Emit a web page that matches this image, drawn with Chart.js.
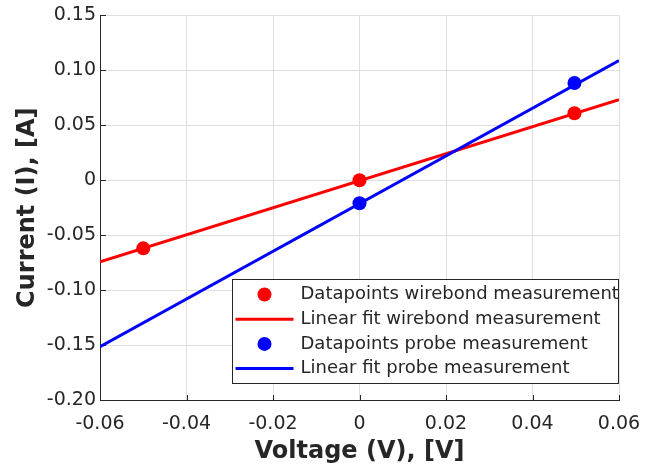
<!DOCTYPE html>
<html>
<head>
<meta charset="utf-8">
<script src="https://cdn.jsdelivr.net/npm/chart.js@4/dist/chart.umd.min.js"></script>
<style>
  body { margin: 0; background: #ffffff; }
  #iv-chart { display: block; }
</style>
</head>
<body>
<canvas id="iv-chart" width="670" height="466"></canvas>
<script>
// --- DATOS ---
const seriesLabels = [
    'Datapoints wirebond measurement',
    'Linear fit wirebond measurement',
    'Datapoints probe measurement',
    'Linear fit probe measurement'
];
const voltageWirebond = [-0.05, 0, 0.0497];
const currentWirebond = [-0.062, 0, 0.061];
const voltageProbe = [0, 0.0497];
const currentProbe = [-0.021, 0.0885];
const fitVoltage = [-0.06, 0.06];
const fitWirebond = [-0.0743, 0.0733];
const fitProbe = [-0.1515, 0.109];
const xTicks = [-0.06, -0.04, -0.02, 0, 0.02, 0.04, 0.06];
const yTicks = [-0.20, -0.15, -0.10, -0.05, 0, 0.05, 0.10, 0.15];

const axisColor = '#262626';
const gridColor = '#dfdfdf';
const fontFamily = '"DejaVu Sans", Verdana, sans-serif';

const toPoints = (xs, ys) => xs.map((x, i) => ({ x: x, y: ys[i] }));
const fmtTick = (v) => (Math.abs(v) < 1e-9 ? '0' : v.toFixed(2));

// Marcas de graduación hacia dentro (estilo MATLAB)
const innerTicksPlugin = {
    id: 'innerTicks',
    beforeDatasetsDraw(chart) {
        const { ctx, chartArea, scales } = chart;
        ctx.save();
        ctx.strokeStyle = axisColor;
        ctx.lineWidth = 1;
        ctx.beginPath();
        xTicks.forEach(v => {
            const px = Math.round(scales.x.getPixelForValue(v)) + 0.5;
            ctx.moveTo(px, chartArea.bottom);
            ctx.lineTo(px, chartArea.bottom - 5);
        });
        yTicks.forEach(v => {
            const py = Math.round(scales.y.getPixelForValue(v)) + 0.5;
            ctx.moveTo(chartArea.left, py);
            ctx.lineTo(chartArea.left + 6, py);
        });
        ctx.stroke();
        ctx.restore();
    }
};

// Leyenda dentro del área del gráfico
const boxLegendPlugin = {
    id: 'boxLegend',
    afterDraw(chart) {
        const { ctx } = chart;
        const box = { left: 232.5, top: 279.5, width: 386, height: 104 };
        ctx.save();
        ctx.fillStyle = '#ffffff';
        ctx.fillRect(box.left, box.top, box.width, box.height);
        ctx.strokeStyle = axisColor;
        ctx.lineWidth = 1;
        ctx.strokeRect(box.left, box.top, box.width, box.height);
        ctx.font = '18px ' + fontFamily;
        ctx.textBaseline = 'middle';
        ctx.textAlign = 'left';
        chart.data.datasets.forEach((ds, i) => {
            const rowY = box.top + 15 + i * 24.7;
            if (ds.showLine) {
                ctx.strokeStyle = ds.borderColor;
                ctx.lineWidth = 3;
                ctx.beginPath();
                ctx.moveTo(box.left + 3, rowY);
                ctx.lineTo(box.left + 61, rowY);
                ctx.stroke();
            } else {
                ctx.fillStyle = ds.backgroundColor;
                ctx.beginPath();
                ctx.arc(box.left + 32, rowY, 7, 0, Math.PI * 2);
                ctx.fill();
            }
            ctx.fillStyle = axisColor;
            ctx.fillText(ds.label, box.left + 68, rowY);
        });
        ctx.restore();
    }
};

const pointStyle = (label, xs, ys, color, order) => ({
    label: label,
    data: toPoints(xs, ys),
    showLine: false,
    backgroundColor: color,
    borderColor: color,
    pointRadius: 7,
    pointBorderWidth: 0,
    order: order
});

const lineStyle = (label, xs, ys, color, order) => ({
    label: label,
    data: toPoints(xs, ys),
    showLine: true,
    borderColor: color,
    backgroundColor: color,
    borderWidth: 3,
    pointRadius: 0,
    fill: false,
    order: order
});

new Chart(document.querySelector('#iv-chart'), {
    type: 'scatter',
    data: {
        datasets: [
            pointStyle(seriesLabels[0], voltageWirebond, currentWirebond, '#ff0000', 0),
            lineStyle(seriesLabels[1], fitVoltage, fitWirebond, '#ff0000', 3),
            pointStyle(seriesLabels[2], voltageProbe, currentProbe, '#0000ff', 1),
            lineStyle(seriesLabels[3], fitVoltage, fitProbe, '#0000ff', 2)
        ]
    },
    options: {
        responsive: false,
        animation: false,
        layout: { padding: { top: 15, right: 51, left: 0, bottom: 0 } },
        plugins: {
            legend: { display: false },
            tooltip: { enabled: false }
        },
        scales: {
            x: {
                type: 'linear',
                min: -0.06,
                max: 0.06,
                afterBuildTicks: (scale) => { scale.ticks = xTicks.map(v => ({ value: v })); },
                afterFit: (scale) => { scale.height = 66; },
                grid: { color: gridColor, lineWidth: 1, drawTicks: false },
                border: { color: axisColor, width: 1 },
                ticks: {
                    color: axisColor,
                    padding: 13,
                    maxRotation: 0,
                    font: { family: fontFamily, size: 19 },
                    callback: (v) => fmtTick(v)
                },
                title: {
                    display: true,
                    text: 'Voltage (V), [V]',
                    color: axisColor,
                    padding: { top: 0, bottom: 0 },
                    font: { family: fontFamily, size: 24, weight: 'bold' }
                }
            },
            y: {
                type: 'linear',
                min: -0.2,
                max: 0.15,
                afterBuildTicks: (scale) => { scale.ticks = yTicks.map(v => ({ value: v })); },
                afterFit: (scale) => { scale.width = 100; },
                grid: { color: gridColor, lineWidth: 1, drawTicks: false },
                border: { color: axisColor, width: 1 },
                ticks: {
                    color: axisColor,
                    padding: 4,
                    font: { family: fontFamily, size: 19 },
                    callback: (v) => fmtTick(v)
                },
                title: {
                    display: true,
                    text: 'Current (I), [A]',
                    color: axisColor,
                    padding: { top: 13, bottom: 0 },
                    font: { family: fontFamily, size: 24, weight: 'bold' }
                }
            }
        }
    },
    plugins: [innerTicksPlugin, boxLegendPlugin]
});
</script>
</body>
</html>
